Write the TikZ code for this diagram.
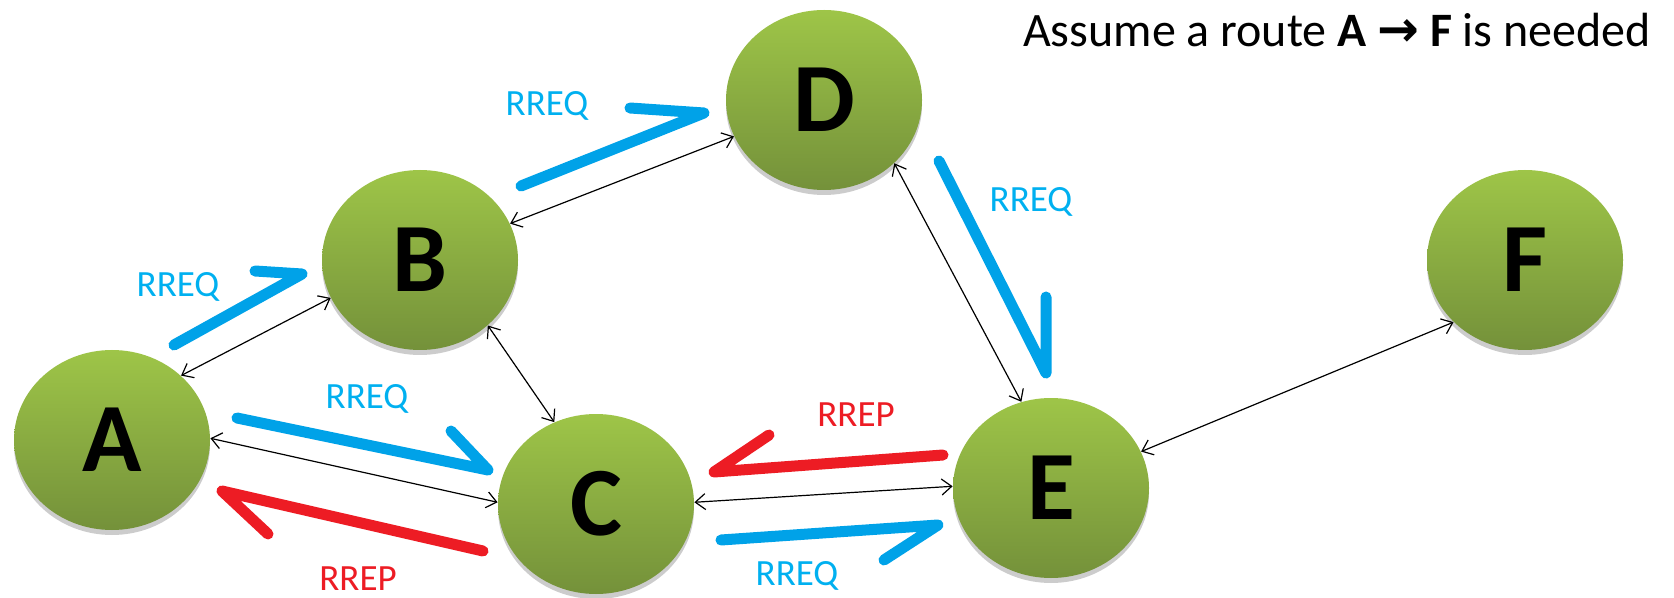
\documentclass[tikz,border=0pt]{standalone}
\usepackage{fontspec}
\setmainfont{Carlito}
\newfontfamily\arrowfont{DejaVu Sans}
\usetikzlibrary{shapes.geometric,arrows.meta,shadows}
\definecolor{nodetop}{RGB}{158,197,72}
\definecolor{nodebot}{RGB}{116,145,58}
\definecolor{rreq}{RGB}{0,162,232}
\definecolor{rreqtext}{RGB}{0,176,240}
\definecolor{rrep}{RGB}{237,28,36}
\begin{document}
\begin{tikzpicture}[x=0.5pt,y=-0.5pt,
  netnode/.style={ellipse, minimum width=98pt, minimum height=90pt, inner sep=0pt,
    top color=nodetop, bottom color=nodebot, draw=none,
    font=\fontsize{49}{49}\selectfont\bfseries,
    drop shadow={shadow xshift=0pt,shadow yshift=-2.5pt,opacity=0.2,fill=black}},
  link/.style={{Straight Barb[length=5pt,width=8pt]}-{Straight Barb[length=5pt,width=8pt]}, line width=0.6pt, draw=black},
  req/.style={draw=rreq, line width=5.5pt, line cap=round, line join=round},
  rep/.style={draw=rrep, line width=5.5pt, line cap=round, line join=round},
  reqlabel/.style={text=rreqtext, font=\fontsize{18.5}{18.5}\selectfont, inner sep=0pt},
  replabel/.style={text=rrep, font=\fontsize{18.5}{18.5}\selectfont, inner sep=0pt}
]
\fill[white] (0,0) rectangle (1674,598);
\useasboundingbox (0,0) rectangle (1674,598);

% nodes
\node[netnode] (A) at (112,440) {A};
\node[netnode] (B) at (420,260) {B};
\node[netnode] (C) at (596,504) {C};
\node[netnode] (D) at (824,100) {D};
\node[netnode] (E) at (1051,488) {E};
\node[netnode] (F) at (1525,260) {F};

% title
\node[anchor=base, inner sep=0pt, font=\fontsize{24}{24}\selectfont] (title) at (1337,47)
  {Assume a route \textbf{A} {\arrowfont\bfseries\fontsize{25}{25}\selectfont →} \textbf{F} is needed};

% links
\draw[link] (A.43) -- (B.203);
\draw[link] (B.22) -- (D.202);
\draw[link] (B.316) -- (C.117);
\draw[link] (A.1) -- (C.179);
\draw[link] (C.1) -- (E.179);
\draw[link] (D.318) -- (E.109);
\draw[link] (E.22) -- (F.221);

% RREQ / RREP hand-drawn arrows
\coordinate (r1s) at (174,345); \coordinate (r1a) at (302,274); \coordinate (r1h) at (255,271);
\coordinate (r2s) at (521,186); \coordinate (r2a) at (704,113); \coordinate (r2h) at (630,108);
\coordinate (r3s) at (939,161); \coordinate (r3a) at (1046,373); \coordinate (r3h) at (1046,297);
\coordinate (r4s) at (237,418); \coordinate (r4a) at (488,470); \coordinate (r4h) at (451,431);
\coordinate (p5s) at (483,551); \coordinate (p5a) at (222,491); \coordinate (p5h) at (268,534);
\coordinate (p6s) at (943,455); \coordinate (p6a) at (714,472); \coordinate (p6h) at (769,435);
\coordinate (r7s) at (721,540); \coordinate (r7a) at (938,525); \coordinate (r7h) at (884,560);

\draw[req] (r1s) -- (r1a) -- (r1h);
\draw[req] (r2s) -- (r2a) -- (r2h);
\draw[req] (r3s) -- (r3a) -- (r3h);
\draw[req] (r4s) -- (r4a) -- (r4h);
\draw[rep] (p5s) -- (p5a) -- (p5h);
\draw[rep] (p6s) -- (p6a) -- (p6h);
\draw[req] (r7s) -- (r7a) -- (r7h);

% labels
\node[reqlabel] (l1) at (178,287) {RREQ};
\node[reqlabel] (l2) at (547,106) {RREQ};
\node[reqlabel] (l3) at (1031,202) {RREQ};
\node[reqlabel] (l4) at (367,399) {RREQ};
\node[replabel] (l5) at (358,579) {RREP};
\node[replabel] (l6) at (856,415) {RREP};
\node[reqlabel] (l7) at (797,576) {RREQ};
\end{tikzpicture}
\end{document}
